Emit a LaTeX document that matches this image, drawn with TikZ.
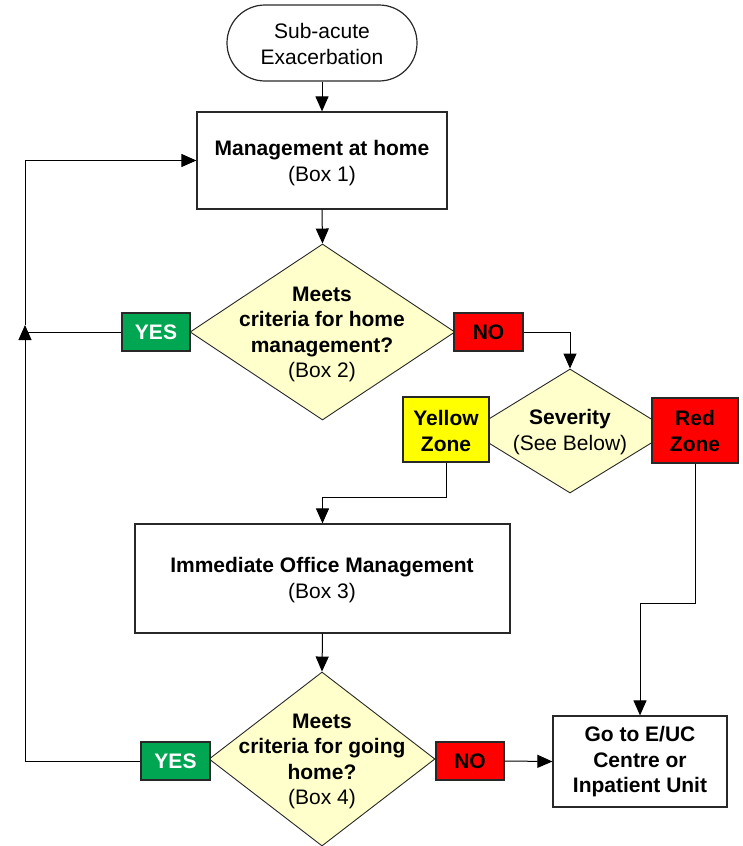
\documentclass[tikz,border=0pt]{standalone}
\usepackage{fontspec}
\setmainfont{Liberation Sans}
\usetikzlibrary{shapes.geometric,arrows.meta}
\definecolor{decfill}{RGB}{255,255,204}
\definecolor{yesgreen}{RGB}{0,166,81}
\definecolor{nored}{RGB}{255,0,0}
\definecolor{zoneyellow}{RGB}{255,255,0}
\definecolor{edge}{RGB}{40,40,40}
\tikzset{
  txt/.style={font=\fontsize{21}{25.5}\selectfont, align=center, inner sep=0pt},
  procbox/.style={draw=edge, line width=1.2pt, fill=white, rectangle, inner sep=0pt},
  termbox/.style={draw=edge, line width=1.2pt, fill=white, rectangle, rounded corners=38pt, inner sep=0pt},
  decision/.style={draw=edge, line width=0.9pt, fill=decfill, diamond, inner sep=0pt},
  answer/.style={draw=edge, line width=1.2pt, rectangle, inner sep=0pt,
    minimum height=38pt, font=\fontsize{21}{25.5}\selectfont\bfseries},
  flow/.style={draw=black, line width=1pt},
  arr/.style={flow, -{Triangle[length=15pt,width=13pt]}}
}
\begin{document}
\begin{tikzpicture}[x=1pt,y=-1pt]
\useasboundingbox (0,0) rectangle (743,846);

% start terminator
\node[termbox, minimum width=190pt, minimum height=76pt] (start) at (322,43) {};
\node[txt] at (322,44) {Sub-acute\\Exacerbation};

% Box 1
\node[procbox, minimum width=250pt, minimum height=97pt] (box1) at (322,160.5) {};
\node[txt] at (322,163) {\bfseries Management at home\\(Box 1)};

% Box 2 decision
\node[decision, minimum width=265pt, minimum height=176pt] (d1) at (322.5,332) {};
\node[txt] at (322,334.5) {\bfseries Meets\\\bfseries criteria for home\\\bfseries management?\\(Box 2)};
\node[answer, fill=yesgreen, text=white, minimum width=68pt] (yes1) at (156,332) {YES};
\node[answer, fill=nored, minimum width=69pt] (no1) at (488.5,332) {NO};

% Severity decision with zones
\node[decision, minimum width=202pt, minimum height=124pt] (d2) at (570,431) {};
\node[txt] at (570,432) {\bfseries Severity\\(See Below)};
\node[procbox, fill=zoneyellow, minimum width=86pt, minimum height=65pt] (yz) at (446,429.5) {};
\node[txt] at (446,431) {\bfseries Yellow\\\bfseries Zone};
\node[procbox, fill=nored, minimum width=86pt, minimum height=65pt] (rz) at (695,430.5) {};
\node[txt] at (695,431) {\bfseries Red\\\bfseries Zone};

% Box 3
\node[procbox, minimum width=375pt, minimum height=109pt] (box3) at (322.5,578.5) {};
\node[txt] at (322,580) {\bfseries Immediate Office Management\\(Box 3)};

% Box 4 decision
\node[decision, minimum width=226pt, minimum height=174pt] (d3) at (322,759) {};
\node[txt] at (322,761.5) {\bfseries Meets\\\bfseries criteria for going\\\bfseries home?\\(Box 4)};
\node[answer, fill=yesgreen, text=white, minimum width=69pt] (yes2) at (175.5,761) {YES};
\node[answer, fill=nored, minimum width=68pt] (no2) at (470,761) {NO};

% destination
\node[procbox, minimum width=174pt, minimum height=91pt] (dest) at (640,761.5) {};
\node[txt] at (640,762) {\bfseries Go to E/UC\\\bfseries Centre or\\\bfseries Inpatient Unit};

% connectors
\coordinate (loop) at (25,325);
\coordinate (nobend) at (570,332);
\coordinate (ybend) at (446,497);
\coordinate (rbend) at (695,603);

\draw[arr] (start.south) -- (box1.north);
\draw[arr] (box1.south) -- (d1.north);
\draw[flow] (yes1.west) -- (yes1.west -| loop);
\draw[arr] (no1.east) -- (nobend) -- (d2.north);
\draw[arr] (yz.south) -- (ybend) -| (box3.north);
\draw[arr] (rz.south) -- (rbend) -| (dest.north);
\draw[arr] (box3.south) -- (d3.north);
\draw[arr] (yes2.west) -| (loop);
\draw[arr] (loop) |- (box1.west);
\draw[arr] (no2.east) -- (dest.west);
\end{tikzpicture}
\end{document}
